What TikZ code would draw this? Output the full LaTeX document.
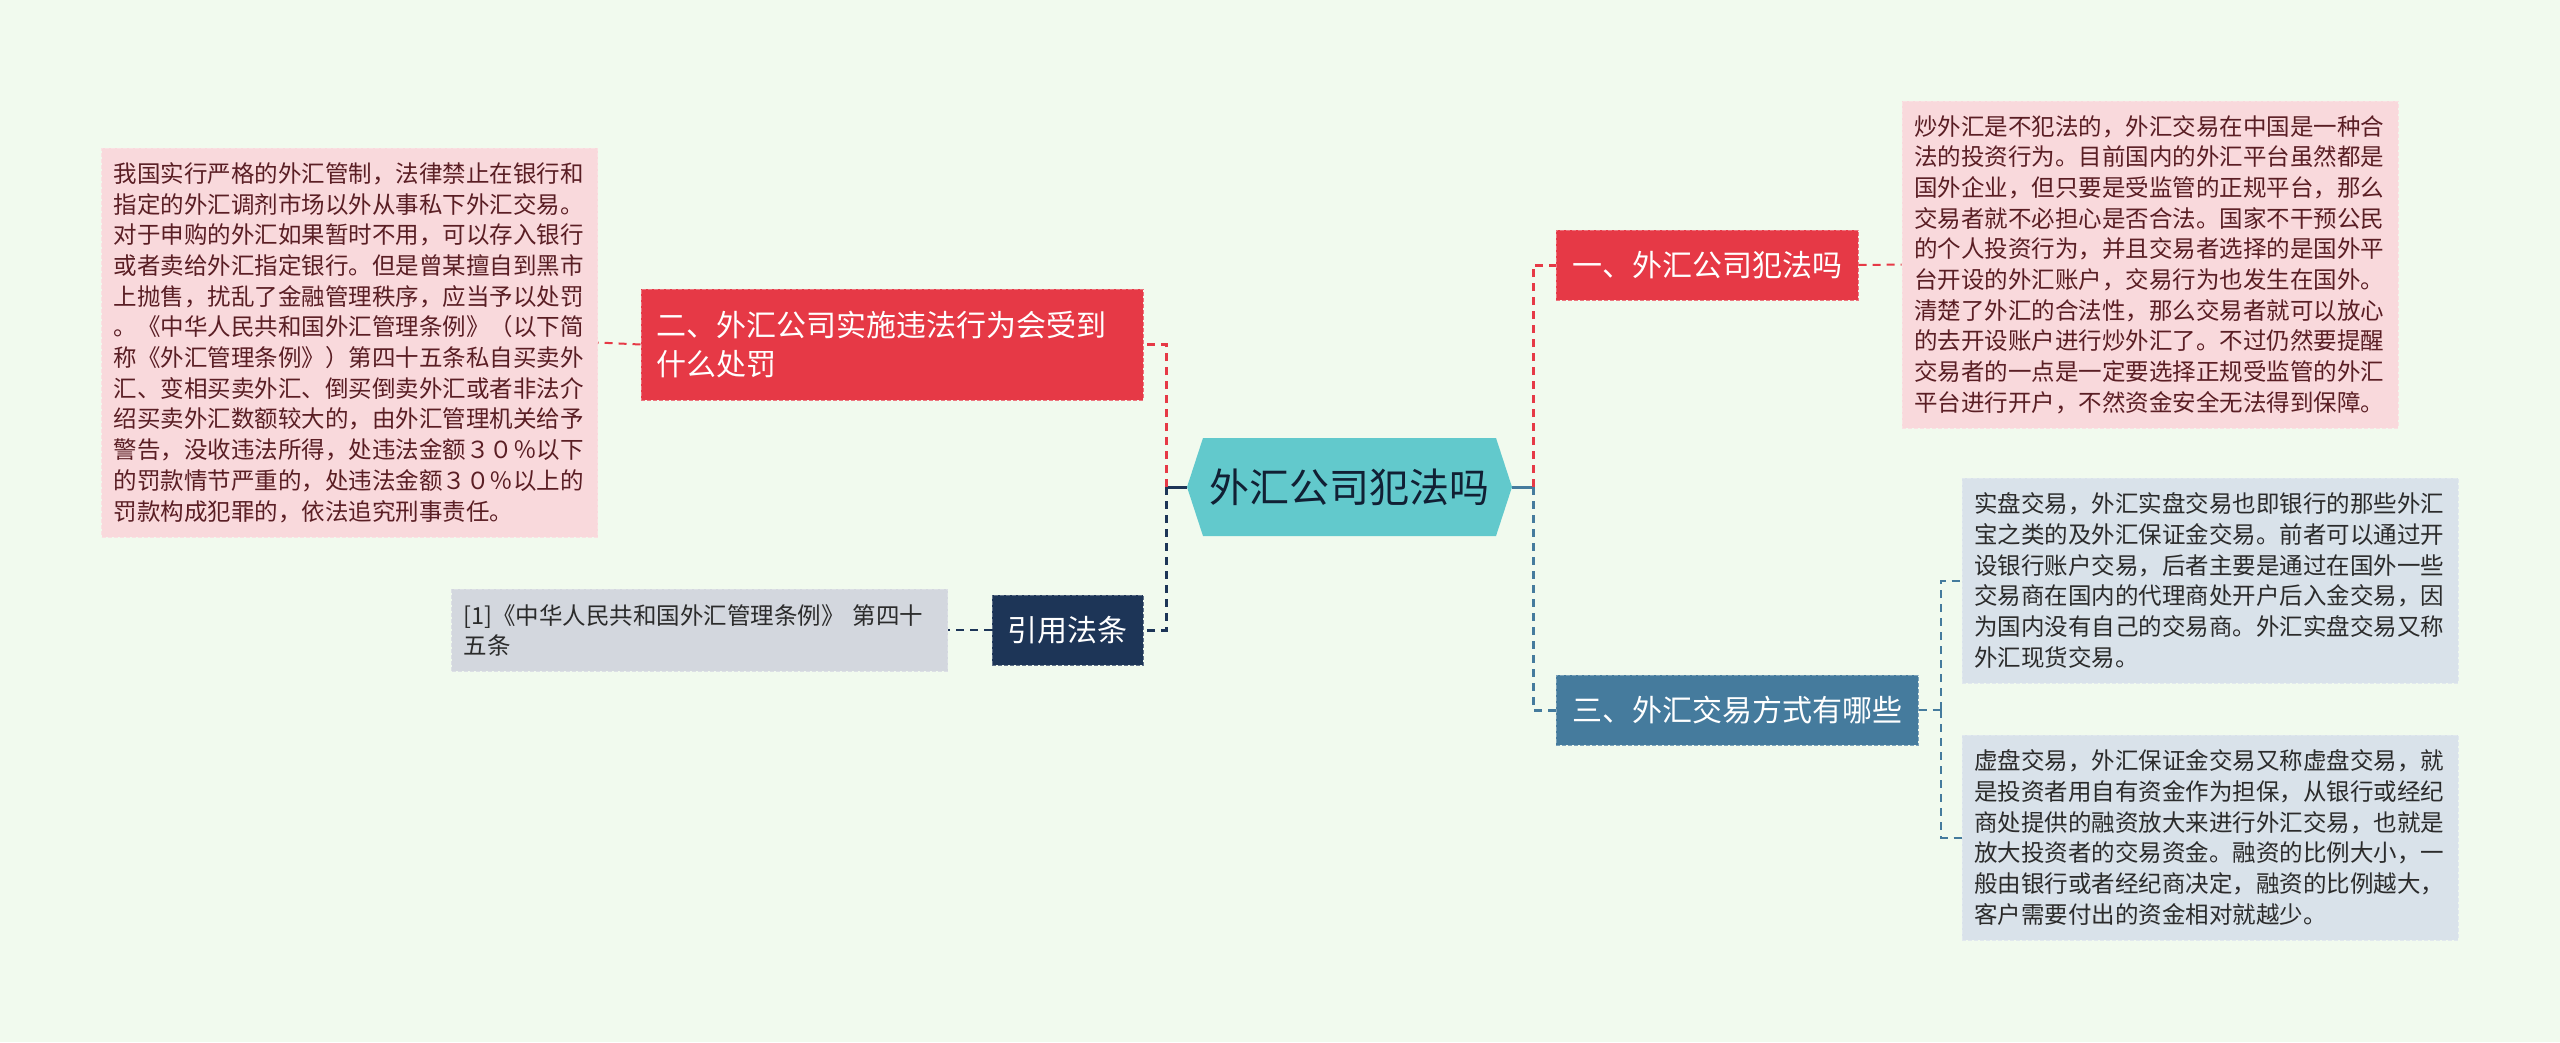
\documentclass[tikz,border=0pt]{standalone}
\usepackage{fontspec}
\setmainfont{Noto Sans CJK SC}
\definecolor{bgcol}{HTML}{F1FAEE}
\definecolor{redcol}{HTML}{E63946}
\definecolor{pinkcol}{HTML}{F9D9DC}
\definecolor{pinktext}{HTML}{5A1E24}
\definecolor{navycol}{HTML}{1D3557}
\definecolor{bluecol}{HTML}{457B9D}
\definecolor{tealcol}{HTML}{62C9CC}
\definecolor{greycol}{HTML}{D3D7DE}
\definecolor{slatecol}{HTML}{D9E2EA}
\definecolor{darktext}{HTML}{2B2B2B}
\begin{document}
\begin{tikzpicture}[x=1pt, y=-1pt,
	topic/.style={text=white, font=\fontsize{30pt}{39pt}\selectfont, inner sep=0pt, minimum height=70pt, line width=1pt, dash pattern=on 4pt off 2pt},
	note/.style={text width=472pt, inner xsep=12pt, inner ysep=0pt, align=left, font=\fontsize{23.5pt}{30.7pt}\selectfont, line width=1pt, dash pattern=on 4pt off 2pt},
	branch/.style={line width=3pt, dash pattern=on 8pt off 6pt},
	twig/.style={line width=2pt, dash pattern=on 8pt off 6pt}]
	\fill[bgcol] (0,0) rectangle (2560,1042);
	\useasboundingbox (0,0) rectangle (2560,1042);

	\fill[tealcol] (1187,487) -- (1203,438) -- (1496,438) -- (1512,487) -- (1496,536) -- (1203,536) -- cycle;
	\node[inner sep=0pt, minimum width=325pt, minimum height=98pt, text=navycol!60!black, font=\fontsize{40pt}{48pt}\selectfont] (root) at (1349.5,487) {外汇公司犯法吗};

	\node[topic, fill=redcol, draw=redcol!70!white, minimum width=302pt] (n1) at (1707,265) {一、外汇公司犯法吗};
	\node[topic, fill=redcol, draw=redcol!70!white, minimum height=111pt, text width=472pt, inner xsep=15pt, align=left] (n2) at (892,344.5) {二、外汇公司实施违法行为会受到\\什么处罚};
	\node[topic, fill=bluecol, draw=bluecol!70!white, minimum width=362pt] (n3) at (1737,710) {三、外汇交易方式有哪些};
	\node[topic, fill=navycol, draw=navycol!70!white, minimum width=151pt] (cite) at (1067.5,630) {引用法条};

	\node[note, fill=pinkcol, draw=pinkcol!80!white, text=pinktext, minimum height=327pt] (d1) at (2150,264.5) {炒外汇是不犯法的，外汇交易在中国是一种合\\法的投资行为。目前国内的外汇平台虽然都是\\国外企业，但只要是受监管的正规平台，那么\\交易者就不必担心是否合法。国家不干预公民\\的个人投资行为，并且交易者选择的是国外平\\台开设的外汇账户，交易行为也发生在国外。\\清楚了外汇的合法性，那么交易者就可以放心\\的去开设账户进行炒外汇了。不过仍然要提醒\\交易者的一点是一定要选择正规受监管的外汇\\平台进行开户，不然资金安全无法得到保障。};
	\node[note, fill=pinkcol, draw=pinkcol!80!white, text=pinktext, minimum height=389pt] (d2) at (349.5,342.5) {我国实行严格的外汇管制，法律禁止在银行和\\指定的外汇调剂市场以外从事私下外汇交易。\\对于申购的外汇如果暂时不用，可以存入银行\\或者卖给外汇指定银行。但是曾某擅自到黑市\\上抛售，扰乱了金融管理秩序，应当予以处罚\\。《中华人民共和国外汇管理条例》（以下简\\称《外汇管理条例》）第四十五条私自买卖外\\汇、变相买卖外汇、倒买倒卖外汇或者非法介\\绍买卖外汇数额较大的，由外汇管理机关给予\\警告，没收违法所得，处违法金额３０％以下\\的罚款情节严重的，处违法金额３０％以上的\\罚款构成犯罪的，依法追究刑事责任。};
	\node[note, fill=greycol, draw=greycol!80!white, text=darktext, minimum height=82pt, font=\fontsize{23.5pt}{30pt}\selectfont] (ref) at (699.5,630) {[1]《中华人民共和国外汇管理条例》 第四十\\五条};
	\node[note, fill=slatecol, draw=slatecol!80!white, text=darktext, minimum height=205pt] (d3a) at (2210,580.5) {实盘交易，外汇实盘交易也即银行的那些外汇\\宝之类的及外汇保证金交易。前者可以通过开\\设银行账户交易，后者主要是通过在国外一些\\交易商在国内的代理商处开户后入金交易，因\\为国内没有自己的交易商。外汇实盘交易又称\\外汇现货交易。};
	\node[note, fill=slatecol, draw=slatecol!80!white, text=darktext, minimum height=205pt] (d3b) at (2210,837.5) {虚盘交易，外汇保证金交易又称虚盘交易，就\\是投资者用自有资金作为担保，从银行或经纪\\商处提供的融资放大来进行外汇交易，也就是\\放大投资者的交易资金。融资的比例大小，一\\般由银行或者经纪商决定，融资的比例越大，\\客户需要付出的资金相对就越少。};

	\coordinate (lbus) at (1166,487);
	\coordinate (rbus) at (1533,487);
	\coordinate (tbus) at (1941,710);
	\draw[line width=3pt, navycol] (root.west) -- (lbus);
	\draw[line width=3pt, bluecol] (root.east) -- (rbus);
	\draw[branch, redcol] (lbus) |- (n2.east);
	\draw[branch, navycol] (lbus) |- (cite.east);
	\draw[branch, redcol] (rbus) |- (n1.west);
	\draw[branch, bluecol] (rbus) |- (n3.west);
	\draw[twig, redcol] (n1.east) -- (d1.west);
	\draw[twig, redcol] (n2.west) -- (d2.east);
	\draw[twig, navycol] (cite.west) -- (ref.east);
	\draw[twig, bluecol] (n3.east) -- (tbus);
	\draw[twig, bluecol] (tbus) |- (d3a.west);
	\draw[twig, bluecol] (tbus) |- (d3b.west);
\end{tikzpicture}
\end{document}
